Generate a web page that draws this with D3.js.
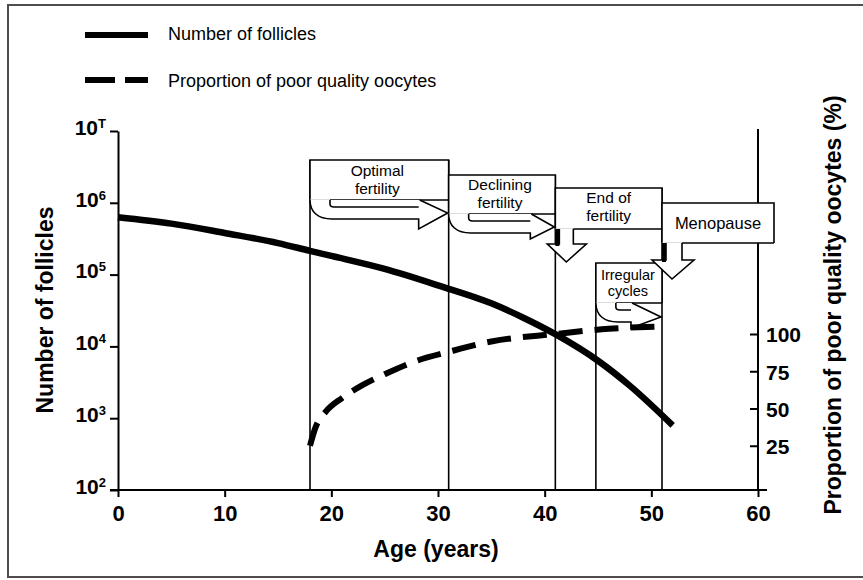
<!DOCTYPE html>
<html>
<head>
<meta charset="utf-8">
<script src="https://cdn.jsdelivr.net/npm/d3@7"></script>
<style>
  html, body { margin: 0; padding: 0; background: #fff; }
  svg { display: block; }
</style>
</head>
<body>
<svg id="chart" width="863" height="580"></svg>
<script>
// ---------------- data ----------------
const ages = [0, 5, 10, 15, 18, 20, 25, 30, 35, 38, 41, 45, 48, 52];
const follicles = [631000, 513000, 380000, 275000, 214000, 182000, 120000, 70800, 39800, 25100, 14800, 6310, 2820, 794];
const propAges = [18, 18.5, 19.5, 21, 23, 25, 28, 31, 35, 41, 46, 51];
const poorQuality = [25, 37, 48, 57, 66, 73, 82, 88, 95, 100, 103.5, 105];
const xTicks = [0, 10, 20, 30, 40, 50, 60];
const yTicks = [1e2, 1e3, 1e4, 1e5, 1e6, 1e7];
const yTickSup = ["2", "3", "4", "5", "6", "T"];
const rTicks = [25, 50, 75, 100];
const phaseLabels = [["Optimal", "fertility"], ["Declining", "fertility"], ["End of", "fertility"], ["Irregular", "cycles"], ["Menopause"]];
const phaseStart = [18, 31, 41, 44.8, 51];
const phaseEnd = [31, 41, 51, 51, 61.5];
const legendLabels = ["Number of follicles", "Proportion of poor quality oocytes"];

// ---------------- setup ----------------
const FONT = '"Liberation Sans", Arial, Helvetica, sans-serif';
const svg = d3.select("#chart").attr("font-family", FONT);
svg.append("rect").attr("width", 863).attr("height", 580).attr("fill", "#fff");

const x = d3.scaleLinear().domain([0, 60]).range([118, 758]);
const yL = d3.scaleLog().domain([1e2, 1e7]).range([490, 131]);
const yR = d3.scaleLinear().domain([0, 100]).range([483, 334]);

// outer frame
svg.append("rect").attr("x", 8).attr("y", 5).attr("width", 870).attr("height", 572)
  .attr("fill", "none").attr("stroke", "#4d4d4d").attr("stroke-width", 2);

// ---------------- axes ----------------
const gL = svg.append("g").attr("transform", `translate(${x(0)},0)`)
  .call(d3.axisLeft(yL).tickValues(yTicks).tickSize(8).tickSizeOuter(0).tickFormat(() => ""));
gL.select(".domain").attr("stroke-width", 2);
gL.selectAll(".tick line").attr("stroke-width", 2);
gL.selectAll(".tick text").each(function (d, i) {
  const t = d3.select(this).attr("x", -12).attr("dy", "0.33em")
    .attr("font-family", FONT).attr("font-weight", "bold").attr("fill", "#000")
    .attr("text-anchor", "end");
  t.append("tspan").attr("font-size", 21).text("10");
  t.append("tspan").attr("font-size", 13).attr("dy", -7).text(yTickSup[i]);
});

const gB = svg.append("g").attr("transform", `translate(0,${yL(1e2)})`)
  .call(d3.axisBottom(x).tickValues(xTicks).tickSize(7).tickSizeOuter(0).tickFormat(d3.format("d")));
gB.select(".domain").attr("stroke-width", 2).attr("d", `M${x(0) - 8},0H${x(60) + 9}`);
gB.selectAll(".tick line").attr("stroke-width", 2);
gB.selectAll(".tick text").attr("font-family", FONT).attr("font-size", 22).attr("font-weight", "bold")
  .attr("fill", "#000").attr("y", 31).attr("dy", 0);

// right axis line + ticks
svg.append("line").attr("x1", x(60)).attr("x2", x(60)).attr("y1", yL(1e7) - 2).attr("y2", yL(1e2))
  .attr("stroke", "#000").attr("stroke-width", 2);
const gR = svg.append("g").attr("transform", `translate(${x(60)},0)`)
  .call(d3.axisRight(yR).tickValues(rTicks).tickSize(-8).tickPadding(8).tickSizeOuter(0));
gR.select(".domain").remove();
gR.selectAll(".tick line").attr("stroke-width", 2);
gR.selectAll(".tick text").attr("font-family", FONT).attr("font-size", 21).attr("font-weight", "bold")
  .attr("fill", "#000").attr("dy", "0.38em");

// ---------------- phase lines ----------------
const phaseLineTop = [160, 160, 175, 263, 188];
phaseStart.forEach((a, i) => {
  svg.append("line").attr("x1", x(a)).attr("x2", x(a)).attr("y1", phaseLineTop[i]).attr("y2", yL(1e2))
    .attr("stroke", "#000").attr("stroke-width", 1.6);
});

// ---------------- boxes & arrows ----------------
const SW = 1.6;
function boxOutline(g, x0, x1, top, bottom) {
  g.append("rect").attr("x", x0).attr("y", top).attr("width", x1 - x0).attr("height", bottom - top)
    .attr("fill", "#fff");
  g.append("path").attr("d", `M${x0},${bottom}V${top}H${x1}V${bottom}`)
    .attr("fill", "none").attr("stroke", "#000").attr("stroke-width", SW);
}
function ribbonArrow(g, x0, x1, yT, head, barbH, tipDY) {
  const cw = 22, bx = x0 + 20, shaftH = 19, barH = 7, xh = x1 - head;
  g.append("line").attr("x1", x0).attr("x2", bx).attr("y1", yT).attr("y2", yT)
    .attr("stroke", "#bbb").attr("stroke-width", 1);
  g.append("line").attr("x1", bx).attr("x2", x1).attr("y1", yT).attr("y2", yT)
    .attr("stroke", "#000").attr("stroke-width", SW);
  g.append("path")
    .attr("d", `M${x0},${yT}C${x0},${yT + 12} ${x0 + 8},${yT + shaftH} ${x0 + cw},${yT + shaftH}` +
      `L${xh},${yT + shaftH}L${xh},${yT + barbH}L${x1 - 1},${yT + tipDY}L${xh + 1},${yT}`)
    .attr("fill", "#fff").attr("stroke", "#000").attr("stroke-width", SW);
  g.append("path")
    .attr("d", `M${bx},${yT}L${bx},${yT + barH - 3}Q${bx},${yT + barH} ${bx + 4},${yT + barH}L${xh},${yT + barH}`)
    .attr("fill", "none").attr("stroke", "#000").attr("stroke-width", SW);
}
function downArrow(g, xl, x1, yT, shaftW, barbDY, barbL, barbR, tipX, tipDY) {
  g.append("line").attr("x1", xl).attr("x2", xl + shaftW).attr("y1", yT).attr("y2", yT)
    .attr("stroke", "#bbb").attr("stroke-width", 1);
  g.append("line").attr("x1", xl + shaftW).attr("x2", x1).attr("y1", yT).attr("y2", yT)
    .attr("stroke", "#000").attr("stroke-width", SW);
  g.append("path")
    .attr("d", `M${xl + 4},${yT}V${yT + barbDY}H${xl + barbL}L${xl + tipX},${yT + tipDY}` +
      `L${xl + barbR},${yT + barbDY}H${xl + shaftW}V${yT}`)
    .attr("fill", "#fff").attr("stroke", "#000").attr("stroke-width", SW);
  g.append("rect").attr("x", xl).attr("y", yT).attr("width", 4).attr("height", barbDY + 2).attr("fill", "#000");
}
function boxText(g, cx, y0, lines, size, lh) {
  lines.forEach((s, i) => {
    g.append("text").attr("x", cx).attr("y", y0 + i * lh).attr("text-anchor", "middle")
      .attr("font-size", size).attr("fill", "#000").text(s);
  });
}

const gBox = svg.append("g");
// Optimal fertility
{
  const x0 = x(phaseStart[0]), x1 = x(phaseEnd[0]);
  boxOutline(gBox, x0, x1, 160, 200);
  ribbonArrow(gBox, x0, x1, 200, 30, 29, 13);
  boxText(gBox, (x0 + x1) / 2 - 2, 176, phaseLabels[0], 15.5, 17.5);
}
// Declining fertility
{
  const x0 = x(phaseStart[1]), x1 = x(phaseEnd[1]);
  boxOutline(gBox, x0, x1, 175, 214);
  ribbonArrow(gBox, x0, x1, 214, 25, 25, 13);
  boxText(gBox, (x0 + x1) / 2 - 2, 190, phaseLabels[1], 15.5, 17.5);
}
// End of fertility
{
  const x0 = x(phaseStart[2]), x1 = x(phaseEnd[2]);
  boxOutline(gBox, x0, x1, 188, 229);
  downArrow(gBox, x0, x1, 229, 18, 15, -8, 31, 11, 33);
  boxText(gBox, (x0 + x1) / 2, 203, phaseLabels[2], 15.5, 17.5);
}
// Irregular cycles
{
  const x0 = x(phaseStart[3]), x1 = x(phaseEnd[3]);
  boxOutline(gBox, x0, x1, 263, 303);
  ribbonArrow(gBox, x0, x1, 303, 31, 25, 14);
  boxText(gBox, (x0 + x1) / 2 - 1, 280, phaseLabels[3], 14.5, 16.4);
}
// Menopause
{
  const x0 = x(phaseStart[4]), x1 = x(phaseEnd[4]);
  boxOutline(gBox, x0, x1, 203, 243);
  downArrow(gBox, x0, x1, 243, 20, 17, -10, 32, 10, 36);
  boxText(gBox, (x0 + x1) / 2, 229, phaseLabels[4], 16.5, 16);
}

// ---------------- data lines ----------------
const follLine = d3.line().x(d => x(d[0])).y(d => yL(d[1])).curve(d3.curveMonotoneX);
svg.append("path").datum(ages.map((a, i) => [a, follicles[i]]))
  .attr("d", follLine).attr("fill", "none").attr("stroke", "#000").attr("stroke-width", 6.5);

const propLine = d3.line().x(d => x(d[0])).y(d => yR(d[1])).curve(d3.curveMonotoneX);
svg.append("path").datum(propAges.map((a, i) => [a, poorQuality[i]]))
  .attr("d", propLine).attr("fill", "none").attr("stroke", "#000").attr("stroke-width", 6)
  .attr("stroke-dasharray", "24,12");

// ---------------- legend ----------------
svg.append("line").attr("x1", 85).attr("x2", 148).attr("y1", 35).attr("y2", 35)
  .attr("stroke", "#000").attr("stroke-width", 6);
svg.append("line").attr("x1", 85).attr("x2", 148).attr("y1", 80).attr("y2", 80)
  .attr("stroke", "#000").attr("stroke-width", 6).attr("stroke-dasharray", "30,10");
svg.append("text").attr("x", 168).attr("y", 40).attr("font-size", 18).attr("fill", "#000").text(legendLabels[0]);
svg.append("text").attr("x", 168).attr("y", 87).attr("font-size", 18).attr("fill", "#000").text(legendLabels[1]);

// ---------------- axis titles ----------------
svg.append("text").attr("transform", "translate(53,310) rotate(-90)").attr("text-anchor", "middle")
  .attr("font-size", 23).attr("font-weight", "bold").attr("fill", "#000").text("Number of follicles");
svg.append("text").attr("transform", "translate(841,305) rotate(-90)").attr("text-anchor", "middle")
  .attr("font-size", 23).attr("font-weight", "bold").attr("fill", "#000").text("Proportion of poor quality oocytes (%)");
svg.append("text").attr("x", 436).attr("y", 557).attr("text-anchor", "middle")
  .attr("font-size", 23).attr("font-weight", "bold").attr("fill", "#000").text("Age (years)");
</script>
</body>
</html>
